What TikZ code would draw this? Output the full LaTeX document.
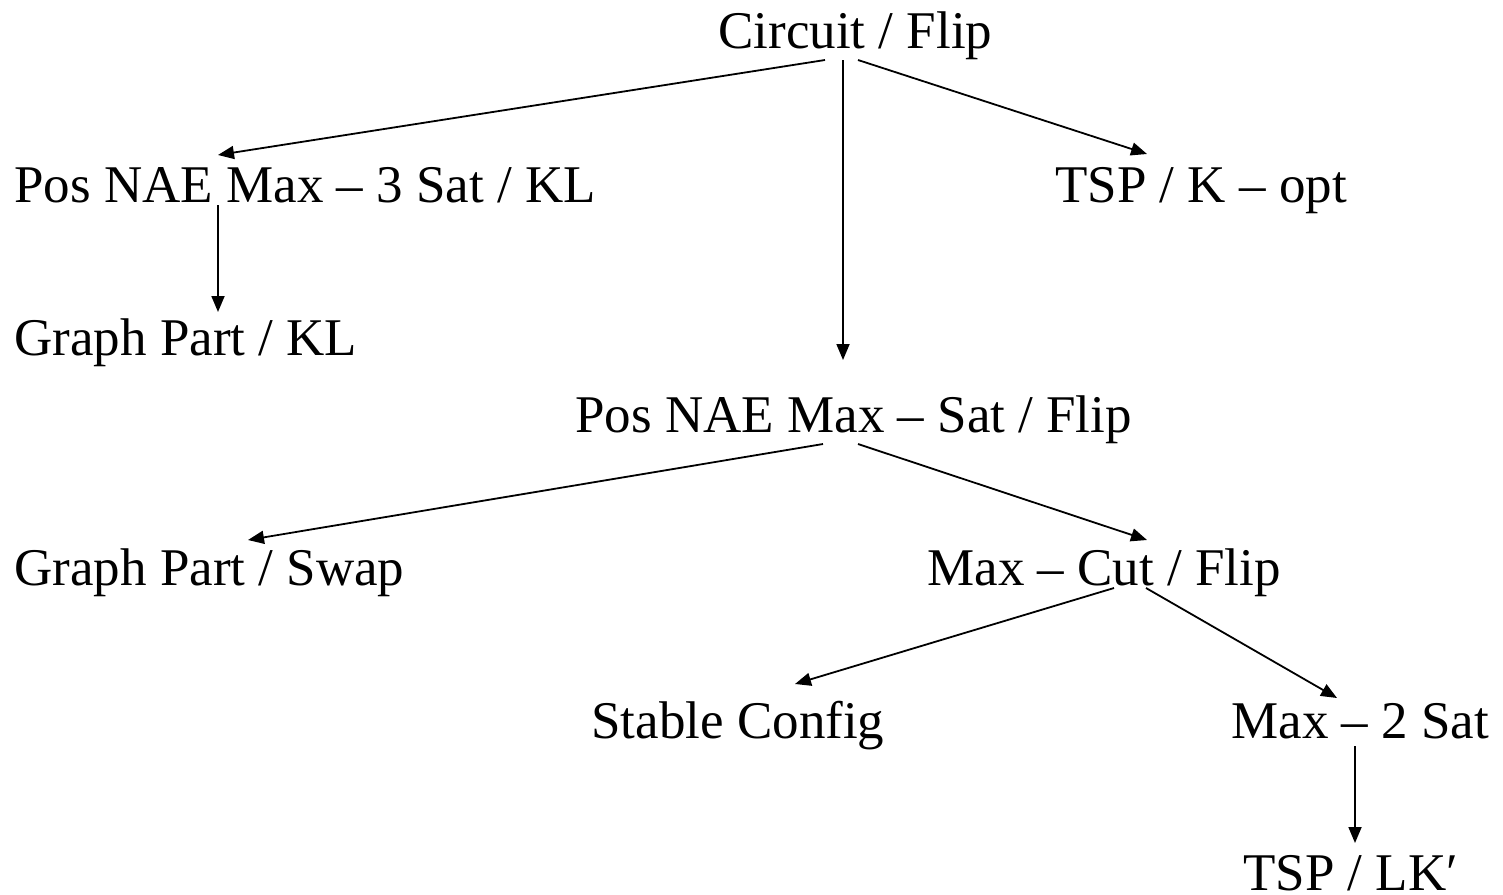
\documentclass[tikz,border=0pt]{standalone}
\usepackage{fontspec}
\setmainfont{Liberation Serif}
\usepackage{xcolor}
\definecolor{ink}{HTML}{000000}
\usetikzlibrary{arrows.meta, calc}
\tikzset{
  >={Triangle[length=8pt, width=6.5pt]},
  prob/.style={anchor=base west, inner sep=0pt, text=ink, font=\fontsize{26.5}{30}\selectfont},
  flow/.style={->, line width=0.9pt, color=ink},
}

\begin{document}
\begin{tikzpicture}[x=0.5pt, y=-0.5pt]
  \useasboundingbox (0,0) rectangle (1503,894);

  % Problems, each at its baseline.
  \node[prob] (circ)   at (718,48)  {Circuit / Flip};
  \node[prob] (kl3)    at (14,202)  {Pos NAE Max -- 3 Sat / KL};
  \node[prob] (kopt)   at (1055,202) {TSP / K -- opt};
  \node[prob] (gpkl)   at (14,355)  {Graph Part / KL};
  \node[prob] (naeflip) at (575,432) {Pos NAE Max -- Sat / Flip};
  \node[prob] (swap)   at (14,585)  {Graph Part / Swap};
  \node[prob] (cut)    at (927,585) {Max -- Cut / Flip};
  \node[prob] (stable) at (591,738) {Stable Config};
  \node[prob] (sat2)   at (1231,738) {Max -- 2 Sat};
  \node[prob] (lk)     at (1243,890) {TSP / LK′};

  % Reductions.
  \draw[flow] ($(circ.base west)+(107,12)$) -- ($(kl3.base west)+(204,-47)$);
  \draw[flow] ($(circ.base west)+(125,12)$) -- ($(naeflip.base west)+(268,-72)$);
  \draw[flow] ($(circ.base west)+(140,12)$) -- ($(kopt.base west)+(92,-48)$);
  \draw[flow] ($(kl3.base west)+(204,3)$) -- ($(gpkl.base west)+(204,-43)$);
  \draw[flow] ($(naeflip.base west)+(248,12)$) -- ($(swap.base west)+(234,-45)$);
  \draw[flow] ($(naeflip.base west)+(283,12)$) -- ($(cut.base west)+(220,-45)$);
  \draw[flow] ($(cut.base west)+(187,3)$) -- ($(stable.base west)+(204,-54)$);
  \draw[flow] ($(cut.base west)+(219,3)$) -- ($(sat2.base west)+(106,-40)$);
  \draw[flow] ($(sat2.base west)+(124,8)$) -- ($(lk.base west)+(112,-47)$);
\end{tikzpicture}
\end{document}
